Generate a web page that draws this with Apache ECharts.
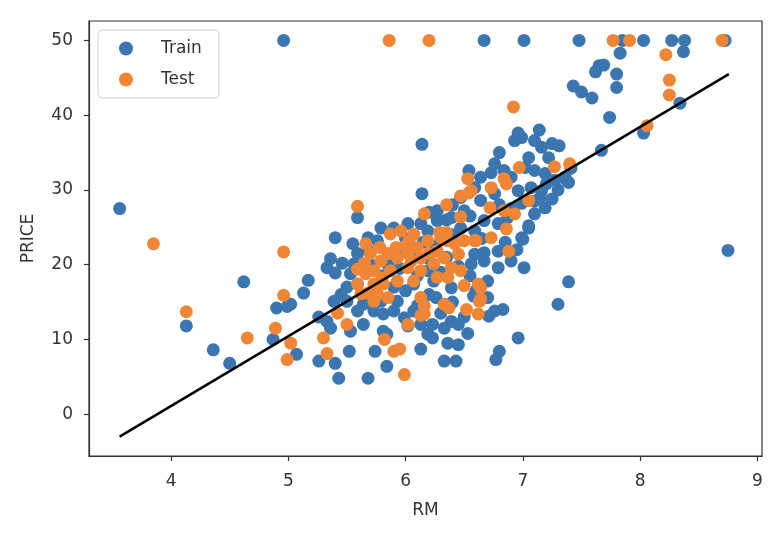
<!DOCTYPE html>
<html>
<head>
<meta charset="utf-8">
<script src="https://cdn.jsdelivr.net/npm/echarts@6/dist/echarts.min.js"></script>
<style>html,body{margin:0;padding:0;background:#fff;}#c{width:780px;height:534px;}</style>
</head>
<body>
<div id="c"></div>
<script>
// Train set (RM, PRICE)
const trainRM = [
4.96,6.67,7.01,7.48,7.85,8.03,8.27,8.38,8.725,
7.83,8.37,7.65,7.69,7.62,7.80,7.80,7.43,7.50,7.59,8.34,7.74,8.03,7.67,6.14,
3.561,8.75,7.39,7.30,4.62,4.13,4.36,4.50,6.96,
7.14,7.10,7.16,7.25,7.31,7.22,7.05,7.02,7.10,7.19,7.27,7.36,7.41,7.07,6.99,6.96,6.93,6.80,6.54,6.73,6.76,6.59,6.47,6.84,7.36,7.39,7.05,6.99,7.05,7.00,7.20,7.30,7.15,
6.14,6.27,6.39,6.47,6.59,6.67,6.79,6.87,6.64,6.76,6.96,7.16,7.19,7.10,6.99,6.90,6.64,6.59,6.67,6.79,6.90,7.01,6.27,6.50,6.24,6.39,6.70,6.56,6.79,6.67,
5.59,5.40,5.55,5.36,5.46,5.33,5.40,5.17,5.13,5.02,4.99,4.90,4.87,5.07,5.26,5.40,5.43,5.68,5.52,5.74,5.84,6.13,5.81,5.26,5.33,5.84,6.02,
5.79,5.90,6.02,6.13,6.19,5.68,5.59,5.56,5.53,5.59,6.19,6.19,5.68,5.76,6.07,
5.39,5.50,5.59,5.36,5.53,5.64,5.73,5.81,5.90,5.99,6.07,6.13,6.19,5.64,5.79,5.93,
6.76,6.83,6.71,6.80,6.77,6.36,6.45,6.33,6.43,6.53,6.39,6.45,6.33,6.23,6.23,6.26,6.58,6.70,
5.70,5.80,5.95,6.05,6.10,6.25,6.35,6.45,6.30,6.00,5.90,6.20,6.40,6.55,6.60,6.50,6.30,6.10,5.95,5.85,6.00,6.15,6.35,6.55,6.40,6.65,6.85,6.95,6.80,6.90,7.10,7.25,5.50,5.45,5.65,5.75,6.40,6.20
];
const trainPrice = [
50,50,50,50,50,50,50,50,50,
48.3,48.5,46.6,46.7,45.8,45.5,43.7,43.9,43.1,42.3,41.6,39.7,37.6,35.3,36.1,
27.5,21.9,17.7,14.7,17.7,11.8,8.6,6.8,10.2,
38.0,36.6,35.7,36.2,35.9,34.3,34.3,33.0,32.6,32.2,31.3,31.7,32.9,30.3,37.0,37.6,36.6,35.0,32.6,32.3,33.5,30.3,29.0,32.6,31.5,31.0,25.2,23.6,24.9,23.4,30.8,30.0,29.0,
29.5,27.2,26.3,24.9,24.5,25.9,25.5,26.3,28.6,29.5,29.9,29.9,27.6,26.8,28.2,31.7,31.7,21.4,20.5,19.6,20.5,19.6,25.9,27.2,17.8,16.9,17.8,20.1,21.8,21.6,
26.3,23.6,22.8,20.8,20.2,19.6,18.9,17.9,16.2,14.7,14.4,14.2,10.0,8.0,7.1,6.8,4.8,4.8,8.4,8.4,6.4,8.7,11.1,13.0,12.4,10.7,11.8,
24.9,24.9,25.5,25.5,24.5,23.6,21.5,20.1,18.8,17.4,20.9,19.2,21.9,23.2,17.4,
15.1,15.1,13.8,11.5,11.1,12.0,13.8,13.4,13.8,12.9,13.8,12.0,10.7,14.7,15.1,15.1,
13.8,14.0,13.1,8.4,7.3,9.5,9.3,7.1,7.1,10.8,12.4,12.0,11.5,10.2,12.0,15.6,15.8,15.6,
20.0,18.5,19.5,21.0,18.5,22.5,21.0,19.8,19.0,16.5,17.0,16.0,15.0,18.5,16.5,13.0,13.5,14.5,22.0,20.0,23.5,23.0,26.0,26.5,28.0,23.5,23.0,22.0,28.0,27.5,28.5,28.8,17.0,16.0,16.0,16.5,24.0,27.0
];
// Test set (RM, PRICE)
const testRM = [
5.86,6.20,7.77,7.91,8.70,
8.22,8.25,8.25,8.06,7.27,7.40,6.92,6.97,6.84,
3.85,4.13,4.65,4.96,4.96,4.89,5.02,4.99,5.30,5.33,5.50,5.42,5.82,5.90,5.95,5.99,6.02,6.16,6.52,6.62,6.64,6.64,5.59,5.66,6.16,6.47,
6.35,6.47,6.56,6.73,6.86,6.53,6.54,6.72,6.93,6.84,7.05,6.86,6.73,6.60,6.88,6.29,6.35,
5.87,5.96,6.07,6.03,5.92,5.85,5.79,5.73,5.66,5.59,5.59,5.93,6.02,6.10,6.13,6.02,5.87,5.81,5.73,6.13,6.07,5.93,6.19,6.30,6.36,6.42,6.27,6.33,6.24,6.39,6.47,6.45,6.50,6.59,6.27,6.36,6.50,6.62,
5.73,5.76,5.85,6.13,6.16,6.13,5.62,5.68,6.33,6.37,6.63,
5.70,5.78,5.65,6.00,6.20,6.05,5.80
];
const testPrice = [
50,50,50,50,50,
48.1,44.7,42.7,38.6,33.1,33.5,41.1,33.0,31.5,
22.8,13.7,10.2,21.7,15.9,11.5,9.5,7.3,10.2,8.1,12.0,13.5,10.0,8.4,8.7,5.3,12.0,13.4,14.0,13.4,16.9,15.4,27.8,22.8,26.8,26.4,
28.0,29.2,29.9,30.3,30.8,31.5,29.6,27.6,26.8,27.2,28.6,24.8,23.6,23.2,21.8,24.3,24.3,
24.1,24.5,24.1,23.2,22.3,21.5,20.5,19.2,18.8,19.4,17.4,20.9,21.5,22.3,20.9,19.6,19.2,17.4,17.4,19.2,17.8,17.8,23.2,23.6,23.2,22.8,21.8,20.9,20.1,19.6,19.2,21.4,23.2,23.2,18.3,18.3,17.2,17.4,
15.1,16.1,15.6,15.6,14.5,13.2,16.1,16.2,14.7,14.2,15.1,
21.5,22.3,20.2,22.5,21.5,20.5,18.2
];
// Fitted line end points
const lineRM = [3.561, 8.757];
const linePrice = [-3.0, 45.5];

const xTicks = [4,5,6,7,8,9];
const yTicks = [0,10,20,30,40,50];

const zip = (a,b) => a.map((v,i)=>[v,b[i]]);
const FONT = 'DejaVu Sans';
const TXT = '#333333';
const FS = 17;

const chart = echarts.init(document.getElementById('c'), null, {renderer:'canvas'});
chart.setOption({
  animation:false,
  backgroundColor:'#ffffff',
  textStyle:{fontFamily:FONT},
  grid:{left:89,right:18,top:21,bottom:78,show:true,borderColor:'#333',borderWidth:1.2,backgroundColor:'transparent'},
  legend:{
    left:98,top:30,orient:'vertical',
    data:[{name:'Train',icon:'circle'},{name:'Test',icon:'circle'}],
    itemWidth:14,itemHeight:14,itemGap:14,
    padding:[10,17,10,21],
    borderColor:'#d0d0d0',borderWidth:1,borderRadius:4,backgroundColor:'rgba(255,255,255,0.8)',
    textStyle:{fontFamily:FONT,fontSize:FS,color:TXT,padding:[0,0,0,23]}
  },
  xAxis:{
    type:'value',min:3.30,max:9.04,
    name:'RM',nameLocation:'middle',nameGap:46,
    nameTextStyle:{fontFamily:FONT,fontSize:FS,color:TXT},
    splitLine:{show:false},
    axisLine:{show:true,onZero:false,lineStyle:{color:'#333',width:1.2}},
    axisTick:{show:true,length:5,customValues:xTicks,lineStyle:{color:'#333',width:1.2}},
    axisLabel:{customValues:xTicks,fontFamily:FONT,fontSize:FS,color:TXT,margin:17}
  },
  yAxis:{
    type:'value',min:-5.6,max:52.6,
    name:'PRICE',nameLocation:'middle',nameGap:52,
    nameTextStyle:{fontFamily:FONT,fontSize:FS,color:TXT},
    splitLine:{show:false},
    axisLine:{show:true,onZero:false,lineStyle:{color:'#333',width:1.2}},
    axisTick:{show:true,length:5,customValues:yTicks,lineStyle:{color:'#333',width:1.2}},
    axisLabel:{customValues:yTicks,fontFamily:FONT,fontSize:FS,color:TXT,margin:16}
  },
  series:[
    {name:'Train',type:'scatter',data:zip(trainRM,trainPrice),symbolSize:13,itemStyle:{color:'#3b76b1',opacity:1},z:2},
    {name:'Test',type:'scatter',data:zip(testRM,testPrice),symbolSize:13,itemStyle:{color:'#ef8636',opacity:1},z:3},
    {name:'fit',type:'line',data:zip(lineRM,linePrice),symbol:'none',lineStyle:{color:'#000',width:2.5},z:4}
  ]
});
</script>
</body>
</html>
